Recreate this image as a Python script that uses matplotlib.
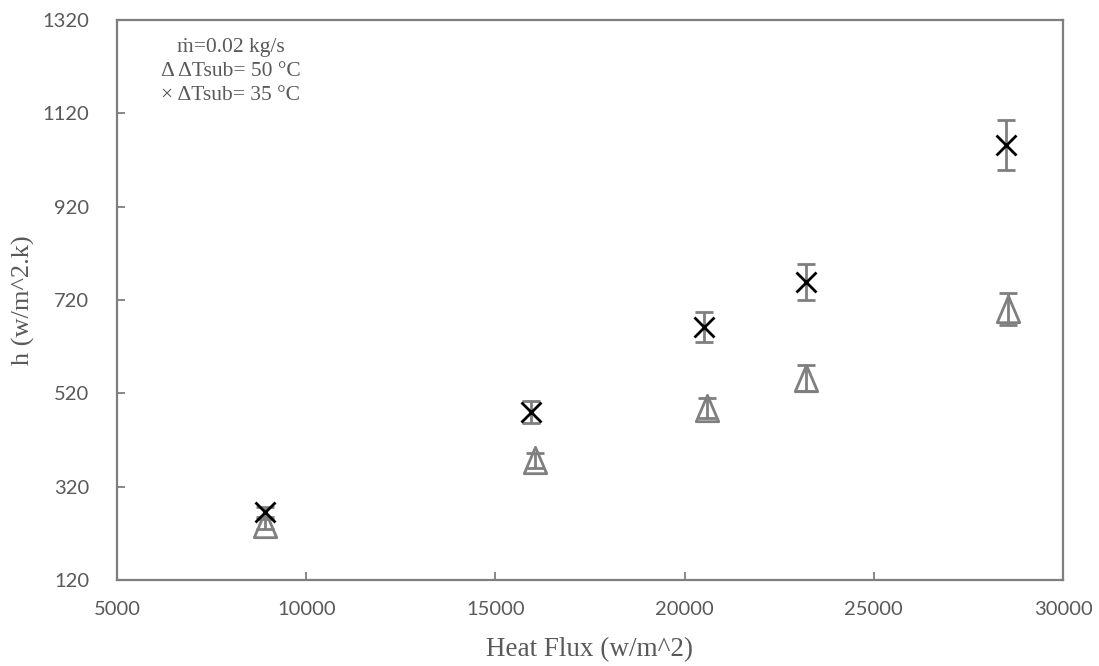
import matplotlib.pyplot as plt
from matplotlib.path import Path

# heat flux (w/m^2) and heat transfer coefficient h (w/m^2.k)
q_35 = [8900, 15950, 20500, 23200, 28500]
h_35 = [266, 480, 662, 759, 1052]
err_35 = [10, 24, 33, 39, 54]

q_50 = [8900, 16050, 20600, 23200, 28550]
h_50 = [240, 377, 489, 553, 701]
err_50 = [10, 16, 22, 28, 34]

xticks = [5000, 10000, 15000, 20000, 25000, 30000]
yticks = [120, 320, 520, 720, 920, 1120, 1320]

grey = '#7f7f7f'
txt = '#595959'

# tall hollow triangle like the excel marker
tri = Path([(0, 1), (-0.85, -1), (0.85, -1), (0, 1)],
           [Path.MOVETO, Path.LINETO, Path.LINETO, Path.CLOSEPOLY])

fig = plt.figure(figsize=(10.99, 6.66), dpi=100)
ax = fig.add_axes([117/1099, 1-580/666, (1063-117)/1099, (580-20)/666])

ax.errorbar(q_50, h_50, yerr=err_50, fmt='none', ecolor=grey, elinewidth=2,
            capsize=6.5, capthick=2, zorder=2)
ax.plot(q_50, h_50, linestyle='none', marker=tri, markersize=19,
        markerfacecolor='none', markeredgecolor=grey, markeredgewidth=2, zorder=3)

ax.errorbar(q_35, h_35, yerr=err_35, fmt='none', ecolor=grey, elinewidth=2,
            capsize=6.5, capthick=2, zorder=2)
ax.plot(q_35, h_35, linestyle='none', marker='x', markersize=14,
        markeredgecolor='black', markeredgewidth=2, zorder=4)

ax.set_xlim(5000, 30000)
ax.set_ylim(120, 1320)
ax.set_xticks(xticks)
ax.set_yticks(yticks)
ax.tick_params(direction='in', length=6, width=1.3, color=grey,
               labelcolor=txt, labelsize=14.5)
ax.tick_params(axis='y', pad=20)
ax.tick_params(axis='x', pad=15)
for lab in ax.get_xticklabels() + ax.get_yticklabels():
    lab.set_family(['Lato', 'DejaVu Sans'])
for s in ax.spines.values():
    s.set_color(grey)
    s.set_linewidth(1.6)

serif = ['Liberation Serif', 'DejaVu Serif']
ax.set_xlabel('Heat Flux (w/m^2)', family=serif, fontsize=19.5, color=txt, labelpad=14)
ax.set_ylabel('h (w/m^2.k)', family=serif, fontsize=19, color=txt, labelpad=5)

ax.text(0.12, 0.968, 'ṁ=0.02 kg/s\nΔ ΔTsub= 50 °C\n× ΔTsub= 35 °C',
        transform=ax.transAxes, ha='center', va='top', family=serif,
        fontsize=15.5, color=txt, linespacing=1.35)

fig.savefig('out.png', dpi=100)
